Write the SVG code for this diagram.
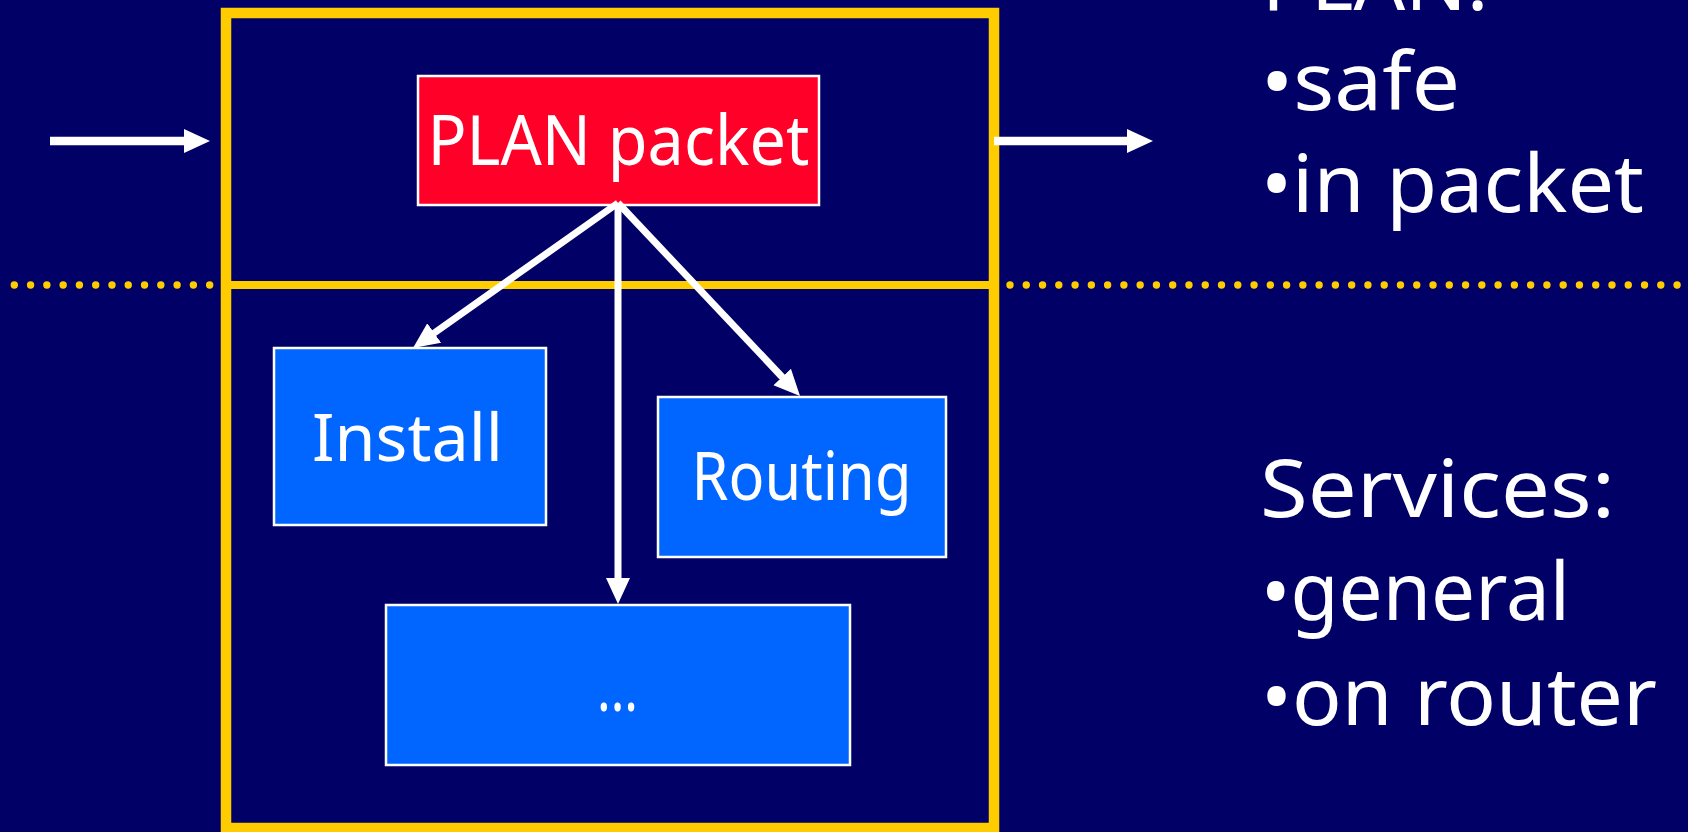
<svg xmlns="http://www.w3.org/2000/svg" width="1688" height="832" viewBox="0 0 1688 832">
  <style>
    .bg { fill: #000066; }
    .frame { fill: none; stroke: #FFCC00; stroke-width: 10.5; }
    .divider { stroke: #FFCC00; stroke-width: 8; }
    .dots { stroke: #FFCC00; stroke-width: 7.4; stroke-linecap: round; stroke-dasharray: 0 16.28; }
    .packet { fill: #FF0029; stroke: #FFFFFF; stroke-width: 2.5; }
    .service { fill: #0066FF; stroke: #FFFFFF; stroke-width: 2.5; }
    .label { font-family: "Noto Sans", "Open Sans", sans-serif; fill: #FFFFFF; }
    .edge { stroke: #FFFFFF; stroke-width: 7; fill: none; }
    .flow { stroke: #FFFFFF; stroke-width: 8.3; fill: none; }
    .side { font-family: "Noto Sans", "Open Sans", sans-serif; fill: #FFFFFF; font-size: 81px; }
  </style>
  <defs>
    <marker id="head" markerUnits="userSpaceOnUse" markerWidth="26" markerHeight="26" viewBox="0 0 26 26" refX="13" refY="13" orient="auto">
      <path d="M0,1 L26,13 L0,25 z" fill="#FFFFFF"/>
    </marker>
  </defs>

  <rect class="bg" x="0" y="0" width="1688" height="832"/>

  <!-- dotted separator on both sides of the router -->
  <g id="separator">
    <line class="dots" x1="14.3" y1="285" x2="215" y2="285"/>
    <line class="dots" x1="1010" y1="285" x2="1682" y2="285" style="stroke-dasharray: 0 16.27"/>
  </g>

  <!-- router frame split into packet and service layers -->
  <g id="router">
    <rect class="frame" x="226" y="13" width="768" height="815"/>
    <line class="divider" x1="226" y1="285" x2="994" y2="285"/>
  </g>

  <g id="plan-packet">
    <rect class="packet" x="418" y="76" width="401" height="129"/>
    <text class="label" x="618.4" y="165" font-size="70" text-anchor="middle" textLength="382" lengthAdjust="spacingAndGlyphs">PLAN packet</text>
  </g>

  <g id="install">
    <rect class="service" x="274" y="348" width="272" height="177"/>
    <text class="label" x="407.5" y="461" font-size="66" text-anchor="middle" textLength="191" lengthAdjust="spacingAndGlyphs">Install</text>
  </g>

  <g id="routing">
    <rect class="service" x="658" y="397" width="288" height="160"/>
    <text class="label" x="801.5" y="500" font-size="67" text-anchor="middle" textLength="220" lengthAdjust="spacingAndGlyphs">Routing</text>
  </g>

  <g id="more">
    <rect class="service" x="386" y="605" width="464" height="160"/>
    <text class="label" x="617.5" y="711" font-size="66" text-anchor="middle" textLength="41" lengthAdjust="spacingAndGlyphs">...</text>
  </g>

  <g id="connectors">
    <line class="flow" x1="50" y1="141" x2="197" y2="141" marker-end="url(#head)"/>
    <line class="flow" x1="994" y1="141" x2="1140" y2="141" marker-end="url(#head)"/>
    <line class="edge" x1="618" y1="203" x2="423.6" y2="340.5" marker-end="url(#head)"/>
    <line class="edge" x1="618" y1="203" x2="618" y2="591" marker-end="url(#head)"/>
    <line class="edge" x1="618" y1="203" x2="791.1" y2="386.5" marker-end="url(#head)"/>
  </g>

  <g id="notes">
    <text class="side" x="1262" y="10">PLAN:</text>
    <text class="side" x="1261" y="110" textLength="199" lengthAdjust="spacingAndGlyphs">•safe</text>
    <text class="side" x="1261" y="212" textLength="383" lengthAdjust="spacingAndGlyphs">•in packet</text>
    <text class="side" x="1260" y="517" textLength="355" lengthAdjust="spacingAndGlyphs">Services:</text>
    <text class="side" x="1261" y="620" textLength="309" lengthAdjust="spacingAndGlyphs">•general</text>
    <text class="side" x="1261" y="725" textLength="396" lengthAdjust="spacingAndGlyphs">•on router</text>
  </g>
</svg>
